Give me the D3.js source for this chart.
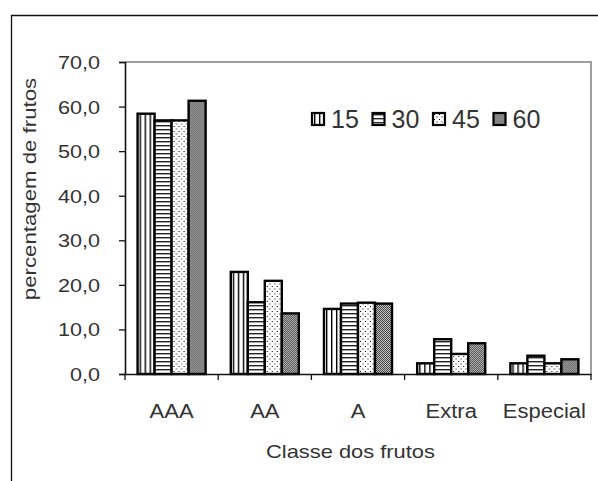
<!DOCTYPE html>
<html><head><meta charset="utf-8">
<script src="https://cdn.jsdelivr.net/npm/d3@7"></script>
<style>body{margin:0;background:#fff}svg{display:block}text{font-family:"Liberation Sans",Arial,sans-serif;fill:#333}</style>
</head><body><svg id="c" width="598" height="481"></svg>
<script>
const categories = ["AAA", "AA", "A", "Extra", "Especial"];
const seriesNames = ["15", "30", "45", "60"];
const s15 = [58.4, 22.9, 14.6, 2.4, 2.4];
const s30 = [56.9, 16.1, 15.8, 7.8, 4.1];
const s45 = [56.9, 20.9, 16.0, 4.5, 2.4];
const s60 = [61.3, 13.6, 15.8, 6.9, 3.3];
const yTicks = [0, 10, 20, 30, 40, 50, 60, 70];
const xTitle = "Classe dos frutos";
const yTitle = "percentagem de frutos";

const series = [s15, s30, s45, s60];
const svg = d3.select("#c");
const defs = svg.append("defs");

// patterns
function pat(id, w, h, build) {
  const p = defs.append("pattern").attr("id", id).attr("patternUnits", "userSpaceOnUse")
    .attr("width", w).attr("height", h);
  p.append("rect").attr("width", w).attr("height", h).attr("fill", "#fff");
  build(p);
}
pat("p15", 5, 5, p => p.append("rect").attr("x", 2).attr("y", 0).attr("width", 1.4).attr("height", 5).attr("fill", "#000"));
pat("p30", 5, 4, p => p.append("rect").attr("x", 0).attr("y", 1).attr("width", 5).attr("height", 1.4).attr("fill", "#222"));
pat("p45", 5, 5, p => {
  p.append("rect").attr("x", 1).attr("y", 1).attr("width", 1).attr("height", 1).attr("fill", "#000");
  p.append("rect").attr("x", 3.5).attr("y", 3.5).attr("width", 1).attr("height", 1).attr("fill", "#000");
});
pat("p60", 2, 2, p => {
  p.select("rect").attr("fill", "#c8c8c8");
  p.append("rect").attr("x", 0).attr("y", 0).attr("width", 1).attr("height", 1).attr("fill", "#404040");
  p.append("rect").attr("x", 1).attr("y", 1).attr("width", 1).attr("height", 1).attr("fill", "#404040");
});
const fills = ["url(#p15)", "url(#p30)", "url(#p45)", "url(#p60)"];

// outer frame
svg.append("path").attr("d", "M11.5,481 V15.5 H598").attr("fill", "none").attr("stroke", "#111").attr("stroke-width", 1.3);

const pL = 125, pR = 591, pT = 62, pB = 374;
const x0 = d3.scaleBand().domain(categories).range([pL, pR]).paddingInner(0.27).paddingOuter(0.135);
const x1 = d3.scaleBand().domain(seriesNames).range([0, x0.bandwidth()]);
const y = d3.scaleLinear().domain([0, 70]).range([pB, pT]);

function stretch(sel, f) {
  sel.each(function () {
    const w = this.getComputedTextLength();
    d3.select(this).attr("textLength", w * f).attr("lengthAdjust", "spacingAndGlyphs");
  });
}

// plot area gray border (top, right)
svg.append("path").attr("d", `M${pL},${pT} H${pR} V${pB}`).attr("fill", "none")
  .attr("stroke", "#a0a0a0").attr("stroke-width", 2);

// bars
const groups = svg.append("g").selectAll("g").data(categories).join("g")
  .attr("transform", d => `translate(${x0(d)},0)`);
groups.selectAll("rect").data((c, i) => seriesNames.map((s, j) => ({ s, j, v: series[j][i] })))
  .join("rect")
  .attr("x", d => x1(d.s)).attr("width", x1.bandwidth())
  .attr("y", d => y(d.v)).attr("height", d => y(0) - y(d.v))
  .attr("fill", d => fills[d.j]).attr("stroke", "#000").attr("stroke-width", 2.4);

// y axis
const loc = d3.formatLocale({ decimal: ",", thousands: ".", grouping: [3], currency: ["", ""] });
const fmt = loc.format(".1f");
const yAxis = svg.append("g").attr("transform", `translate(${pL},0)`)
  .call(d3.axisLeft(y).tickValues(yTicks).tickFormat(fmt).tickSize(6).tickPadding(19));
yAxis.select(".domain").attr("stroke", "#111").attr("stroke-width", 1.6);
yAxis.selectAll(".tick line").attr("stroke", "#111").attr("stroke-width", 1.3);
yAxis.selectAll(".tick text").attr("font-size", 18).attr("font-family", "Liberation Sans, Arial, sans-serif")
  .attr("fill", "#333").attr("dy", "0.36em").call(stretch, 1.2);

// x axis
const xAxis = svg.append("g").attr("transform", `translate(0,${pB})`)
  .call(d3.axisBottom(x0).tickSize(0).tickPadding(0).tickSizeOuter(0));
xAxis.select(".domain").attr("stroke", "#111").attr("stroke-width", 1.6);
xAxis.selectAll(".tick text").attr("font-size", 20).attr("font-family", "Liberation Sans, Arial, sans-serif")
  .attr("fill", "#333").attr("y", 44).attr("dy", 0).call(stretch, 1.1);
// boundary ticks
const step = x0.step();
const boundaries = d3.range(categories.length + 1).map(i => x0(categories[0]) - x0.paddingOuter() * step + i * step);
xAxis.selectAll(".bt").data(boundaries).join("line").attr("class", "bt")
  .attr("x1", d => d).attr("x2", d => d).attr("y1", 0).attr("y2", 6)
  .attr("stroke", "#111").attr("stroke-width", 1.3);

// titles
svg.append("text").attr("x", 350.5).attr("y", 458).attr("text-anchor", "middle")
  .attr("font-size", 19).text(xTitle).call(stretch, 1.15);
svg.append("text").attr("transform", "translate(36,189) rotate(-90)").attr("text-anchor", "middle")
  .attr("font-size", 19).text(yTitle).call(stretch, 1.17);

// legend
const lg = svg.append("g").attr("transform", "translate(312,113)");
const li = lg.selectAll("g").data(seriesNames).join("g").attr("transform", (d, i) => `translate(${i * 60.5},0)`);
li.append("rect").attr("width", 12).attr("height", 12).attr("fill", (d, i) => fills[i])
  .attr("stroke", "#000").attr("stroke-width", 2.2);
li.append("text").attr("x", 19).attr("y", 14.5).attr("font-size", 25).attr("fill", "#111").text(d => d);
</script></body></html>
